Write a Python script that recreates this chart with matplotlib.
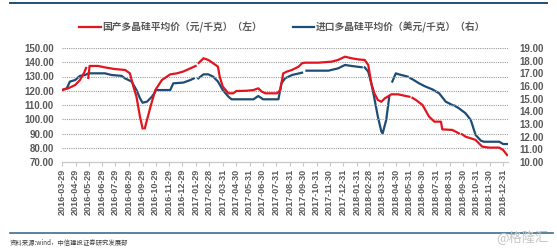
import numpy as np
import pandas as pd
import matplotlib
matplotlib.use("Agg")
import matplotlib.pyplot as plt
from matplotlib.lines import Line2D

plt.rcParams['font.family'] = ['Liberation Sans', 'Noto Sans CJK SC', 'DejaVu Sans']

nan = np.nan

# 国产多晶硅平均价（元/千克），左轴
red_dates = ["2016-03-29", "2016-04-12", "2016-04-28", "2016-05-09", "2016-05-19", "2016-05-23",
             "2016-05-25", "2016-05-28", "2016-05-31", "2016-06-19", "2016-07-05", "2016-07-28",
             "2016-08-20", "2016-08-31", "2016-09-08", "2016-09-15", "2016-09-23", "2016-09-29",
             "2016-10-01", "2016-10-04", "2016-10-17", "2016-10-28", "2016-11-12", "2016-12-01",
             "2016-12-16", "2016-12-30", "2017-01-16", "2017-01-28", "2017-01-31", "2017-02-04",
             "2017-02-15", "2017-02-26", "2017-03-09", "2017-03-20", "2017-03-24", "2017-03-31",
             "2017-04-13", "2017-04-24", "2017-05-01", "2017-05-24", "2017-06-09", "2017-06-20",
             "2017-06-28", "2017-07-06", "2017-08-02", "2017-08-09", "2017-08-16", "2017-08-24",
             "2017-09-05", "2017-09-20", "2017-09-28", "2017-10-05", "2017-11-04", "2017-12-04",
             "2017-12-19", "2018-01-04", "2018-01-19", "2018-02-03", "2018-02-18", "2018-02-26",
             "2018-03-05", "2018-03-12", "2018-03-20", "2018-03-28", "2018-04-05", "2018-04-20",
             "2018-05-05", "2018-05-20", "2018-05-31", "2018-06-03", "2018-06-07", "2018-06-15",
             "2018-06-30", "2018-07-15", "2018-07-27", "2018-08-11", "2018-08-14", "2018-09-06",
             "2018-09-21", "2018-09-24", "2018-09-28", "2018-10-06", "2018-10-29", "2018-11-13",
             "2018-11-29", "2018-12-22", "2018-12-31", "2019-01-09"]
red_vals = [120.5, 121.7, 124.0, 127.5, 133.0, 136.0,
            nan, 129.0, 137.4, 137.4, 136.4, 135.2,
            134.6, 132.2, 122.9, 115.8, 101.8, 93.6,
            nan, 93.6, 108.8, 120.5, 127.5, 131.5,
            132.2, 133.4, 135.7, 137.4, nan, 139.5,
            142.8, 141.6, 139.3, 136.9, 129.9, 122.9,
            118.2, 118.2, 119.8, 120.0, 120.5, 121.7,
            119.4, 118.2, 118.2, 120.5, 132.2, 133.4,
            134.6, 136.9, 139.3, 139.7, 139.7, 140.4,
            141.6, 143.9, 142.8, 142.0, 141.6, 138.1,
            125.2, 118.2, 113.5, 112.3, 114.7, 117.5,
            117.5, 116.5, 115.8, nan, 115.0, 113.5,
            110.0, 101.8, 98.3, 98.3, 92.9, 92.5,
            90.1, nan, 89.5, 87.8, 85.5, 80.8,
            80.1, 80.1, 78.4, 74.9]

# 进口多晶硅平均价（美元/千克），右轴
blue_dates = ["2016-03-29", "2016-04-09", "2016-04-16", "2016-04-28", "2016-05-09", "2016-05-21",
              "2016-05-28", "2016-07-05", "2016-07-20", "2016-08-12", "2016-08-20", "2016-09-04",
              "2016-09-15", "2016-09-23", "2016-09-29", "2016-10-09", "2016-10-20", "2016-10-31",
              "2016-12-01", "2016-12-08", "2016-12-31", "2017-01-16", "2017-01-24", "2017-01-28",
              "2017-02-03", "2017-02-15", "2017-02-26", "2017-03-09", "2017-03-20", "2017-03-31",
              "2017-04-13", "2017-04-20", "2017-06-09", "2017-06-20", "2017-07-01", "2017-08-05",
              "2017-08-12", "2017-08-20", "2017-09-05", "2017-09-28", "2017-10-02", "2017-10-08",
              "2017-11-27", "2017-12-19", "2018-01-04", "2018-01-19", "2018-02-11", "2018-02-14",
              "2018-02-18", "2018-02-26", "2018-03-05", "2018-03-12", "2018-03-20", "2018-03-28",
              "2018-03-31", "2018-04-08", "2018-04-15", "2018-04-18", "2018-04-22", "2018-04-30",
              "2018-05-07", "2018-05-27", "2018-05-30", "2018-06-02", "2018-06-07", "2018-06-22",
              "2018-07-07", "2018-07-22", "2018-08-07", "2018-08-22", "2018-09-06", "2018-09-08",
              "2018-09-11", "2018-09-21", "2018-10-06", "2018-10-18", "2018-10-29", "2018-11-10",
              "2018-11-17", "2018-12-22", "2018-12-31", "2019-01-09"]
blue_vals = [15.68, 15.82, 16.35, 16.47, 16.80, 16.87,
             17.00, 17.00, 16.87, 16.80, 16.60, 16.35,
             15.68, 15.03, 14.68, 14.76, 15.15, 15.68,
             15.68, 16.21, 16.27, 16.47, 16.60, nan,
             16.60, 16.92, 16.92, 16.74, 16.35, 15.68,
             15.15, 14.95, 14.95, 15.21, 14.95, 14.95,
             16.21, 16.60, 16.87, 17.05, nan, 17.21,
             17.21, 17.39, 17.66, 17.58, 17.48, nan,
             17.47, 17.13, 16.21, 15.03, 13.58, 12.40,
             12.26, 13.32, 15.15, nan, 16.35, 17.00,
             16.92, 16.74, nan, 16.62, 16.53, 16.21,
             15.95, 15.74, 15.42, 14.76, 14.50, nan,
             14.45, 14.24, 13.85, 13.32, 12.14, 11.69,
             11.60, 11.60, 11.42, 11.42]

tick_labels = ["2016-03-29", "2016-04-29", "2016-05-29", "2016-06-29", "2016-07-29", "2016-08-29",
               "2016-09-29", "2016-10-29", "2016-11-29", "2016-12-29", "2017-01-29", "2017-02-28",
               "2017-03-31", "2017-04-30", "2017-05-31", "2017-06-30", "2017-07-31", "2017-08-31",
               "2017-09-30", "2017-10-31", "2017-11-30", "2017-12-31", "2018-01-31", "2018-02-28",
               "2018-03-31", "2018-04-30", "2018-05-31", "2018-06-30", "2018-07-31", "2018-08-31",
               "2018-09-30", "2018-10-31", "2018-11-30", "2018-12-31"]

red_label = "国产多晶硅平均价（元/千克）（左）"
blue_label = "进口多晶硅平均价（美元/千克）（右）"

RED = "#E2151F"
BLUE = "#1D4D74"
TXT = "#595959"

fig = plt.figure(figsize=(5.57, 2.5), dpi=100)
ax = fig.add_axes([0.1113, 0.352, 0.8007, 0.456])
ax2 = ax.twinx()

ax.plot(pd.to_datetime(red_dates), red_vals, color=RED, lw=1.6, zorder=3)
ax2.plot(pd.to_datetime(blue_dates), blue_vals, color=BLUE, lw=1.6, zorder=3)
ax.set_zorder(ax2.get_zorder() + 1)
ax.patch.set_visible(False)

ax.set_xlim(pd.Timestamp("2016-03-29"), pd.Timestamp("2019-01-11"))
ax.set_ylim(70, 150)
ax2.set_ylim(10, 19)
ax.set_yticks(np.arange(70, 151, 10))
ax2.set_yticks(np.arange(10, 20, 1))
ax.yaxis.set_major_formatter(plt.FuncFormatter(lambda v, p: f"{v:.2f}"))
ax2.yaxis.set_major_formatter(plt.FuncFormatter(lambda v, p: f"{v:.2f}"))

# 虚线网格
for v in np.arange(80, 151, 10):
    ax.axhline(v, color="#9a9a9a", lw=0.8, ls=(0, (1, 1)), zorder=1)

tick_pos = pd.to_datetime(tick_labels)
ax.set_xticks(tick_pos)
ax.set_xticklabels(tick_labels, rotation=90, fontsize=6.5, fontweight="bold", color=TXT)
ax.tick_params(axis="x", length=3, color="#c8c8c8", pad=2)
ax.tick_params(axis="y", length=0, pad=6, labelsize=7, labelcolor=TXT)
ax2.tick_params(axis="y", length=0, pad=8, labelsize=7, labelcolor=TXT)
for lab in ax.get_yticklabels() + ax2.get_yticklabels():
    lab.set_fontweight("bold")

for a in (ax, ax2):
    for s in ("top", "left", "right"):
        a.spines[s].set_visible(False)
    a.spines["bottom"].set_color("#c8c8c8")
    a.spines["bottom"].set_linewidth(0.8)

handles = [Line2D([], [], color=RED, lw=1.6), Line2D([], [], color=BLUE, lw=1.6)]
fig.legend(handles, [red_label, blue_label], loc="center", bbox_to_anchor=(0.507, 0.892),
           ncol=2, frameon=False, handlelength=2.2, handletextpad=0.15, columnspacing=3.2,
           prop={"family": ["Noto Sans CJK SC"], "size": 7, "weight": "bold"},
           labelcolor=TXT)

# 上下边框线
fig.add_artist(Line2D([0.018, 0.982], [0.988, 0.988], color="#1F4E79", lw=1.4))
fig.add_artist(Line2D([0.018, 0.993], [0.068, 0.068], color="#3C6E8E", lw=1.2))

fig.text(0.018, 0.03, "资料来源:wind，中信建投证券研究发展部", fontsize=4.6,
         family=["Noto Sans CJK SC"], color="#404040", va="center", style="italic")
fig.text(0.985, 0.048, "@格隆汇", fontsize=9.5, family=["Noto Sans CJK SC"],
         color="#c4c4c4", ha="right", va="center")

fig.savefig("out.png", dpi=100)
